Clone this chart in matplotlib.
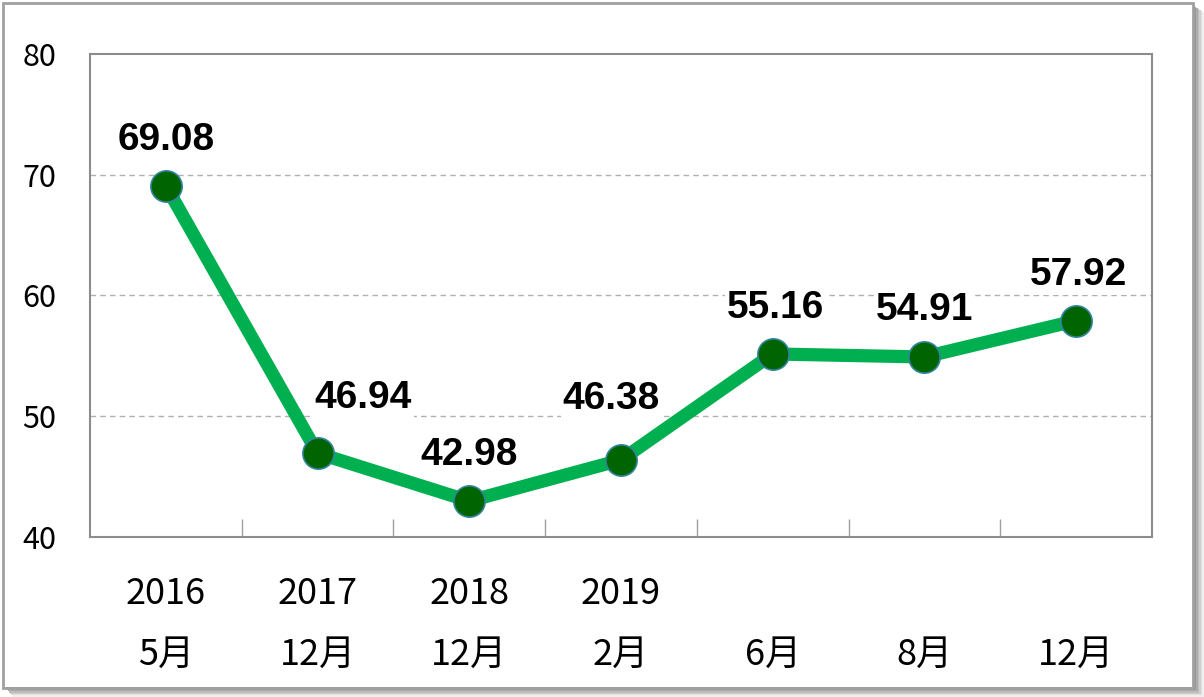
import matplotlib.pyplot as plt
from matplotlib.patches import Rectangle
from matplotlib.transforms import blended_transform_factory

plt.rcParams['font.family'] = ['Noto Sans CJK TC', 'DejaVu Sans']

# chart data
years = ['2016', '2017', '2018', '2019', '', '', '']
months = ['5月', '12月', '12月', '2月', '6月', '8月', '12月']
values = [69.08, 46.94, 42.98, 46.38, 55.16, 54.91, 57.92]

# label offsets in points (dx, dy) from each point
label_offsets = [(0, 33), (33, 40), (0, 33), (-7, 44), (2, 33), (0, 34), (2, 33)]

W, H = 1204, 697
fig = plt.figure(figsize=(W / 100, H / 100), dpi=100)
ax = fig.add_axes([90 / W, 1 - 537 / H, (1152 - 90) / W, (537 - 54) / H])

x = list(range(len(values)))
ax.plot(x, values, color='#00B050', linewidth=9.5, solid_capstyle='butt', zorder=3,
        marker='o', markersize=22.5, markerfacecolor='#006400',
        markeredgecolor='#31859C', markeredgewidth=1.2)

for i, v in enumerate(values):
    dx, dy = label_offsets[i]
    ax.annotate(f'{v:.2f}', (i, v), xytext=(dx, dy), textcoords='offset points',
                ha='center', va='center', fontsize=28, fontweight='bold',
                family='Liberation Sans', zorder=4,
                bbox=dict(boxstyle='square,pad=0.05', fc='white', ec='none'))

ax.set_xlim(-0.5, len(values) - 0.5)
ax.set_ylim(40, 80)
ax.set_yticks([40, 50, 60, 70, 80])
ax.tick_params(axis='y', length=0, labelsize=22, pad=24)

ax.set_xticks([i + 0.5 for i in range(len(values) - 1)])
ax.set_xticklabels([])
ax.tick_params(axis='x', direction='in', length=13, color='#A0A0A0', width=1)

for g in [50, 60, 70]:
    ax.axhline(g, color='#B0B0B0', linewidth=1, linestyle=(0, (4, 3)), zorder=1)

for s in ax.spines.values():
    s.set_color('#8C8C8C')
    s.set_linewidth(1.5)

tr = blended_transform_factory(ax.transData, fig.transFigure)
for i in range(len(values)):
    ax.text(i, 1 - 594 / H, years[i], transform=tr, ha='center', va='center',
            fontsize=26, clip_on=False)
    ax.text(i, 1 - 655 / H, months[i], transform=tr, ha='center', va='center',
            fontsize=26, clip_on=False)

# outer frame with shadow (pixel units)
def px_rect(x0, y0, x1, y1, **kw):
    fig.patches.append(Rectangle((x0 / W, 1 - y1 / H), (x1 - x0) / W, (y1 - y0) / H,
                                 transform=fig.transFigure, **kw))

shades = ['#8A8A8A', '#9A9A9A', '#ABABAB', '#BDBDBD', '#CFCFCF', '#E0E0E0', '#EFEFEF']
for k, c in enumerate(shades):
    px_rect(1193 + k * 1.5, 6 + k, 1194.5 + k * 1.5, 689 + k, fc=c, ec='none')
    px_rect(6 + k, 687 + k * 1.4, 1195 + k * 1.5, 688.4 + k * 1.4, fc=c, ec='none')
px_rect(2.5, 2.5, 1193, 688, fill=False, ec='#A0A0A0', lw=2)

fig.savefig('out.png', dpi=100, facecolor='white')
